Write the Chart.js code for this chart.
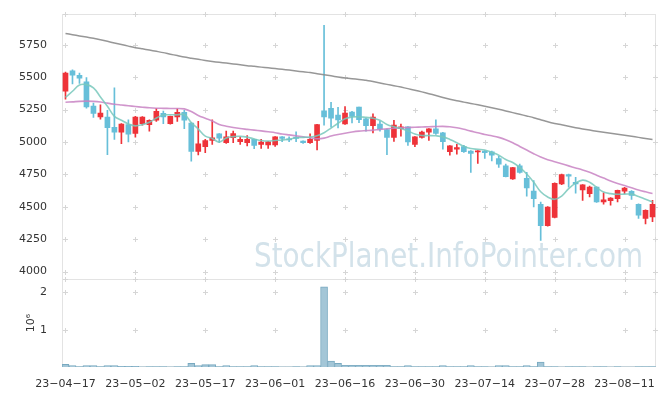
<!DOCTYPE html>
<html>
<head>
<meta charset="utf-8">
<script src="https://cdn.jsdelivr.net/npm/chart.js@4/dist/chart.umd.min.js"></script>
<style>
  html, body { margin: 0; padding: 0; background: #fff; }
  canvas { display: block; }
</style>
</head>
<body>
<canvas id="chart" width="665" height="396"></canvas>
<script>
// Trading days (yy-mm-dd)
const dates = [
  "23-04-17", "23-04-18", "23-04-19", "23-04-20", "23-04-21", "23-04-24", "23-04-25", "23-04-26", "23-04-27", "23-04-28",
  "23-05-02", "23-05-03", "23-05-04", "23-05-08", "23-05-09", "23-05-10", "23-05-11", "23-05-12", "23-05-15", "23-05-16",
  "23-05-17", "23-05-18", "23-05-19", "23-05-22", "23-05-23", "23-05-24", "23-05-25", "23-05-26", "23-05-30", "23-05-31",
  "23-06-01", "23-06-02", "23-06-05", "23-06-07", "23-06-08", "23-06-09", "23-06-12", "23-06-13", "23-06-14", "23-06-15",
  "23-06-16", "23-06-19", "23-06-20", "23-06-21", "23-06-22", "23-06-23", "23-06-26", "23-06-27", "23-06-28", "23-06-29",
  "23-06-30", "23-07-03", "23-07-04", "23-07-05", "23-07-06", "23-07-07", "23-07-10", "23-07-11", "23-07-12", "23-07-13",
  "23-07-14", "23-07-17", "23-07-18", "23-07-19", "23-07-20", "23-07-21", "23-07-24", "23-07-25", "23-07-26", "23-07-27",
  "23-07-28", "23-07-31", "23-08-01", "23-08-02", "23-08-03", "23-08-04", "23-08-07", "23-08-08", "23-08-09", "23-08-10",
  "23-08-11", "23-08-14", "23-08-16", "23-08-17", "23-08-18"
];

const open = [
  5393, 5549, 5515, 5465, 5277, 5193, 5193, 5114, 5076, 5134,
  5066, 5142, 5134, 5168, 5221, 5142, 5193, 5229, 5147, 4928,
  4964, 5012, 5063, 4995, 5033, 5002, 4995, 5020, 4982, 4977,
  4977, 5040, 5025, 5038, 5008, 4995, 5012, 5241, 5261, 5208,
  5139, 5231, 5269, 5180, 5127, 5139, 5096, 5035, 5104, 5117,
  4982, 5035, 5076, 5101, 5071, 4926, 4944, 4964, 4931, 4924,
  4931, 4924, 4873, 4817, 4715, 4817, 4720, 4621, 4520, 4355,
  4418, 4677, 4749, 4690, 4631, 4601, 4652, 4537, 4547, 4563,
  4621, 4619, 4520, 4410, 4423
];
const high = [
  5540, 5557, 5533, 5497, 5300, 5287, 5244, 5419, 5142, 5172,
  5198, 5196, 5172, 5261, 5238, 5200, 5256, 5244, 5150, 5160,
  5020, 5172, 5065, 5084, 5084, 5040, 5050, 5022, 5020, 5005,
  5043, 5042, 5040, 5079, 5010, 5063, 5136, 5901, 5307, 5267,
  5274, 5236, 5270, 5185, 5218, 5160, 5100, 5168, 5139, 5120,
  5043, 5085, 5104, 5172, 5074, 4972, 4982, 4975, 4935, 4935,
  4935, 4930, 4890, 4830, 4805, 4829, 4766, 4703, 4537, 4502,
  4685, 4752, 4752, 4728, 4672, 4660, 4655, 4609, 4572, 4630,
  4650, 4625, 4523, 4476, 4550
];
const low = [
  5330, 5448, 5452, 5262, 5190, 5177, 4903, 5020, 4987, 5000,
  5038, 5130, 5084, 5160, 5142, 5138, 5160, 5104, 4852, 4901,
  4918, 4982, 4995, 4990, 4995, 4982, 4970, 4949, 4951, 4951,
  4966, 5002, 5002, 5002, 4990, 4990, 4939, 5130, 5114, 5109,
  5135, 5147, 5150, 5084, 5071, 5084, 4903, 5005, 5046, 4974,
  4964, 5030, 5012, 5058, 4944, 4898, 4906, 4920, 4766, 4835,
  4873, 4855, 4804, 4730, 4712, 4760, 4583, 4499, 4240, 4350,
  4415, 4672, 4652, 4606, 4550, 4576, 4535, 4520, 4512, 4537,
  4601, 4558, 4410, 4368, 4385
];
const close = [
  5533, 5515, 5492, 5271, 5221, 5223, 5111, 5076, 5139, 5061,
  5193, 5193, 5168, 5236, 5193, 5198, 5229, 5168, 4928, 4987,
  5012, 5033, 5030, 5040, 5066, 5020, 5020, 4974, 5000, 5002,
  5040, 5028, 5017, 5028, 4995, 5020, 5134, 5193, 5185, 5170,
  5223, 5198, 5172, 5127, 5193, 5101, 5035, 5130, 5117, 5000,
  5040, 5076, 5101, 5066, 5002, 4970, 4957, 4926, 4913, 4931,
  4918, 4898, 4829, 4733, 4802, 4766, 4646, 4563, 4355, 4499,
  4682, 4749, 4736, 4677, 4669, 4652, 4537, 4555, 4568, 4627,
  4644, 4589, 4436, 4474, 4520
];
const volume = [
  70000, 40000, 12000, 40000, 40000, 12000, 40000, 40000, 15000, 15000,
  15000, 3000, 12000, 12000, 12000, 3000, 12000, 12000, 95000, 40000,
  65000, 65000, 12000, 40000, 12000, 12000, 12000, 40000, 12000, 12000,
  12000, 3000, 3000, 12000, 3000, 40000, 40000, 2150000, 160000, 95000,
  45000, 45000, 45000, 45000, 45000, 45000, 45000, 12000, 12000, 40000,
  12000, 12000, 12000, 12000, 40000, 12000, 12000, 12000, 40000, 12000,
  12000, 3000, 40000, 40000, 12000, 12000, 40000, 12000, 130000, 12000,
  12000, 2000, 12000, 12000, 12000, 2000, 12000, 12000, 2000, 12000,
  2000, 2000, 12000, 12000, 12000
];

// Moving averages
const maShort = [
  5345, 5392, 5440, 5443, 5418, 5348, 5276, 5198, 5168, 5140,
  5125, 5134, 5152, 5185, 5208, 5210, 5210, 5212, 5150, 5100,
  5045, 5028, 5000, 5032, 5042, 5044, 5038, 5024, 5012, 5008,
  5012, 5016, 5022, 5033, 5036, 5038, 5048, 5072, 5108, 5145,
  5180, 5193, 5195, 5190, 5184, 5168, 5136, 5118, 5104, 5086,
  5062, 5050, 5050, 5048, 5040, 5020, 4995, 4968, 4950, 4944,
  4939, 4920, 4898, 4865, 4842, 4804, 4753, 4690, 4616, 4576,
  4558, 4583, 4640, 4683, 4706, 4690, 4650, 4614, 4602, 4597,
  4598, 4598, 4580, 4558, 4537
];
const maMid = [
  5307, 5310, 5314, 5316, 5314, 5309, 5300, 5292, 5286, 5280,
  5274, 5269, 5264, 5261, 5260, 5259, 5259, 5256, 5235, 5205,
  5183, 5162, 5136, 5122, 5112, 5104, 5098, 5092, 5086, 5079,
  5072, 5062, 5055, 5048, 5040, 5034, 5025, 5030, 5046, 5058,
  5068, 5077, 5084, 5088, 5092, 5098, 5102, 5106, 5110, 5112,
  5114, 5116, 5118, 5120, 5121, 5118, 5110, 5098, 5084, 5072,
  5058, 5048, 5036, 5018, 4995, 4966, 4938, 4910, 4884, 4864,
  4848, 4832, 4816, 4800, 4784, 4766, 4744, 4722, 4700, 4680,
  4664, 4647, 4630, 4616, 4603
];
const maLong = [
  5838, 5828, 5819, 5810, 5800, 5789, 5777, 5764, 5752, 5740,
  5728, 5719, 5710, 5700, 5690, 5678, 5667, 5656, 5647, 5638,
  5630, 5622, 5615, 5609, 5603, 5596, 5589, 5584, 5578, 5573,
  5567, 5561, 5555, 5548, 5542, 5536, 5527, 5519, 5511, 5502,
  5494, 5488, 5483, 5477, 5467, 5456, 5445, 5435, 5424, 5412,
  5400, 5387, 5373, 5359, 5344, 5330, 5318, 5308, 5298, 5287,
  5276, 5265, 5253, 5240, 5227, 5214, 5201, 5188, 5172, 5156,
  5143, 5133, 5122, 5111, 5101, 5092, 5084, 5076, 5068, 5060,
  5052, 5044, 5036, 5028, 5020
];

// Axis ticks
const priceTicks = [4000, 4250, 4500, 4750, 5000, 5250, 5500, 5750];
const volumeTicks = [1000000, 2000000];

const UP = "#ee3339";
const DOWN = "#67bfd9";
const FONT = { family: "DejaVu Sans", size: 11 };
const LABEL_EVERY = 10;

const candleColor = (ctx) =>
  close[ctx.dataIndex] >= open[ctx.dataIndex] ? UP : DOWN;

// light "+" marks at tick crossings, frame lines and the watermark
const chartDecor = {
  id: "chartDecor",
  beforeDatasetsDraw(chart) {
    const { ctx, chartArea, scales } = chart;
    const { x, y, yv } = scales;
    ctx.save();

    ctx.font = '33px "DejaVu Sans"';
    ctx.fillStyle = "#d3e2ea";
    ctx.textBaseline = "alphabetic";
    ctx.fillText("StockPlanet.InfoPointer.com", 254, 267, 389);

    ctx.strokeStyle = "#e3e3e3";
    ctx.lineWidth = 1;
    ctx.strokeRect(
      Math.round(chartArea.left) + 0.5,
      Math.round(chartArea.top) + 0.5,
      Math.round(chartArea.width) - 1,
      Math.round(chartArea.height) - 1
    );
    ctx.beginPath();
    ctx.moveTo(chartArea.left, Math.round(y.bottom) + 0.5);
    ctx.lineTo(chartArea.right, Math.round(y.bottom) + 0.5);
    ctx.stroke();

    const xs = [];
    for (let i = 0; i < dates.length; i += LABEL_EVERY) xs.push(x.getPixelForValue(i));
    const xsAll = xs.concat([chartArea.right - 1]);
    const ys = priceTicks.map((v) => y.getPixelForValue(v));
    const yvs = volumeTicks.map((v) => yv.getPixelForValue(v));

    ctx.fillStyle = "#d6d6d6";
    const cross = (px, py) => {
      px = Math.round(px);
      py = Math.round(py);
      ctx.fillRect(px - 2, py, 5, 1);
      ctx.fillRect(px, py - 2, 1, 5);
    };
    xsAll.forEach((px) => {
      ys.concat(yvs).forEach((py) => cross(px, py));
    });
    xs.forEach((px) => {
      cross(px, y.top);
      cross(px, y.bottom);
    });
    ctx.restore();
  },
};

new Chart(document.getElementById("chart"), {
  data: {
    labels: dates,
    datasets: [
      {
        type: "line",
        data: maShort,
        yAxisID: "y",
        borderColor: "rgba(120,200,188,0.85)",
        borderWidth: 1.6,
        pointRadius: 0,
        tension: 0.4,
        order: 0,
      },
      {
        type: "line",
        data: maMid,
        yAxisID: "y",
        borderColor: "rgba(200,130,195,0.85)",
        borderWidth: 1.6,
        pointRadius: 0,
        tension: 0.3,
        order: 0,
      },
      {
        type: "line",
        data: maLong,
        yAxisID: "y",
        borderColor: "rgba(140,140,140,0.9)",
        borderWidth: 1.5,
        pointRadius: 0,
        tension: 0.2,
        order: 0,
      },
      {
        type: "bar",
        data: low.map((l, i) => [l, high[i]]),
        yAxisID: "y",
        backgroundColor: candleColor,
        barThickness: 1,
        grouped: false,
        order: 2,
      },
      {
        type: "bar",
        data: open.map((o, i) => [o, close[i]]),
        yAxisID: "y",
        backgroundColor: candleColor,
        barThickness: 5,
        minBarLength: 1,
        grouped: false,
        order: 1,
      },
      {
        type: "bar",
        data: volume,
        yAxisID: "yv",
        backgroundColor: "#a3c6d7",
        borderColor: "#78a9c0",
        borderWidth: 1,
        barPercentage: 1,
        categoryPercentage: 1,
        grouped: false,
        order: 3,
      },
    ],
  },
  options: {
    responsive: false,
    animation: false,
    events: [],
    layout: { padding: { top: 10, right: 9, left: 0, bottom: 0 } },
    plugins: { legend: { display: false }, tooltip: { enabled: false } },
    scales: {
      x: {
        type: "category",
        offset: true,
        grid: { display: false },
        border: { display: false },
        afterFit: (s) => { s.height = 29; },
        ticks: {
          autoSkip: false,
          maxRotation: 0,
          padding: 3,
          color: "#333",
          font: FONT,
          callback: (v, i) => (i % LABEL_EVERY === 0 ? dates[i].replace(/-/g, "\u2212") : ""),
        },
      },
      yv: {
        type: "linear",
        position: "left",
        stack: "panels",
        stackWeight: 89,
        min: 0,
        max: 2360000,
        grid: { display: false },
        border: { display: false },
        afterFit: (s) => { s.width = 62; },
        afterBuildTicks: (s) => { s.ticks = volumeTicks.map((v) => ({ value: v })); },
        title: { display: true, text: "10\u2076", color: "#333", font: FONT, padding: { top: 25, bottom: 0 } },
        ticks: {
          padding: 7,
          color: "#333",
          font: FONT,
          callback: (v) => String(v / 1000000),
        },
      },
      y: {
        type: "linear",
        position: "left",
        stack: "panels",
        stackWeight: 268,
        min: 3944,
        max: 5991,
        grid: { display: false },
        border: { display: false },
        afterFit: (s) => { s.width = 62; },
        afterBuildTicks: (s) => { s.ticks = priceTicks.map((v) => ({ value: v })); },
        ticks: {
          padding: 7,
          color: "#333",
          font: FONT,
          callback: (v) => String(v),
        },
      },
    },
  },
  plugins: [chartDecor],
});
</script>
</body>
</html>
